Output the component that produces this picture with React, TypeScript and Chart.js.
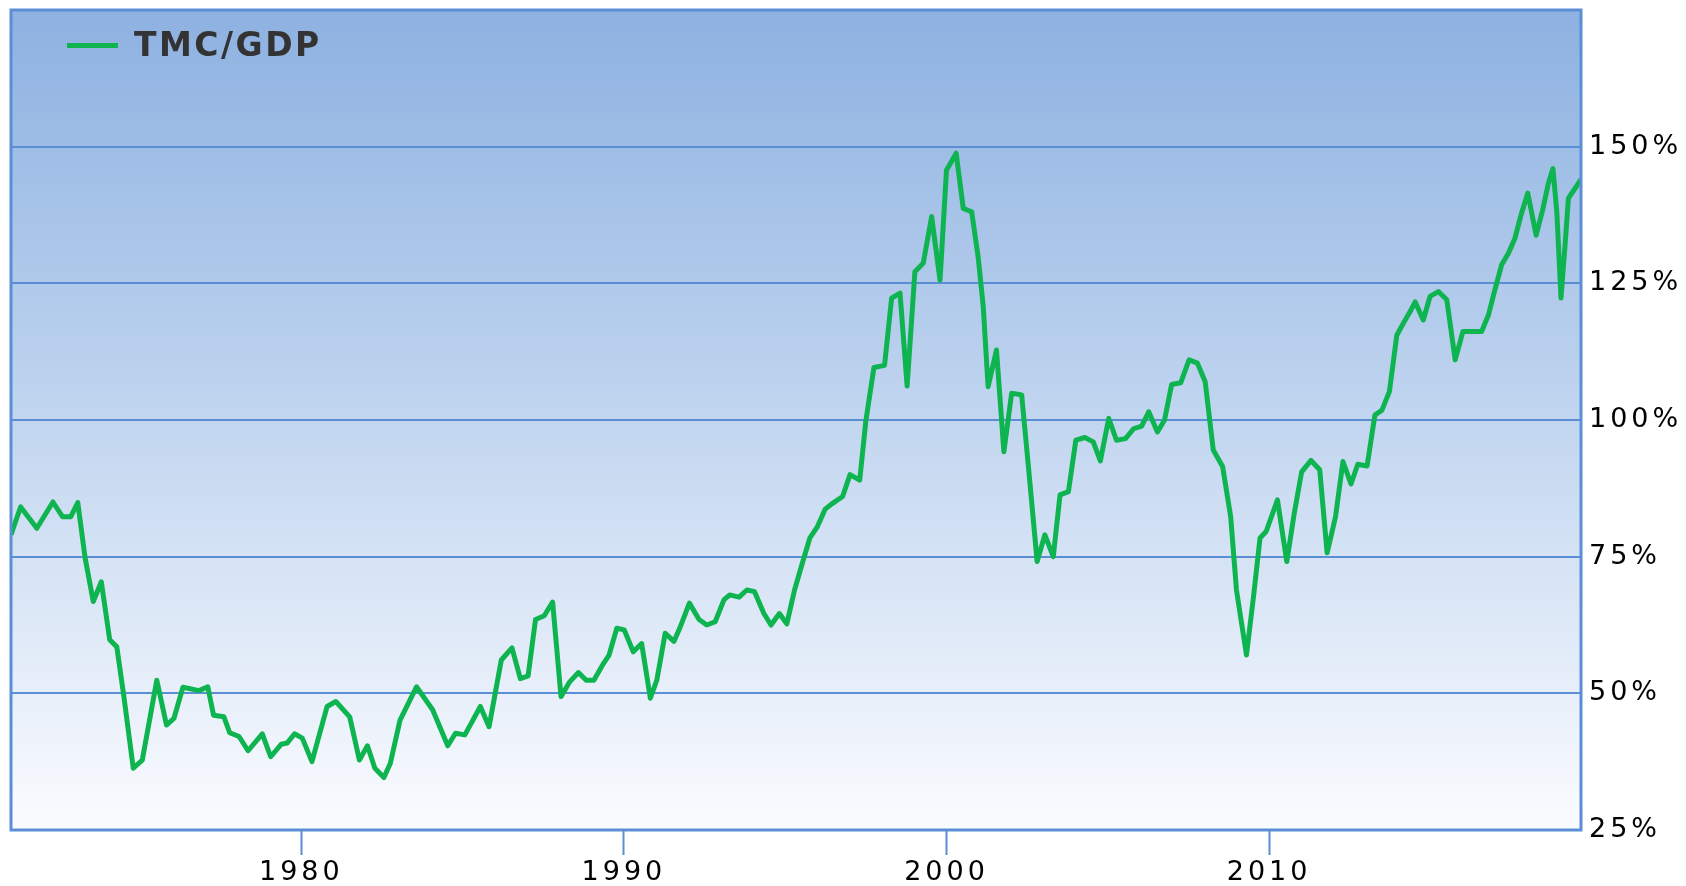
import React, { useEffect, useRef } from 'react';
import { Chart, registerables } from 'chart.js';

Chart.register(...registerables);

const SERIES_LABEL = 'TMC/GDP';

const YEARS = [
  1971.0, 1971.3, 1971.8, 1972.3, 1972.6, 1972.85, 1973.07, 1973.3, 1973.55, 1973.8,
  1974.06, 1974.28, 1974.5, 1974.79, 1975.07, 1975.52, 1975.82, 1976.05, 1976.33, 1976.83,
  1977.1, 1977.28, 1977.6, 1977.78, 1978.07, 1978.35, 1978.79, 1979.05, 1979.38, 1979.56,
  1979.79, 1980.03, 1980.33, 1980.8, 1981.07, 1981.5, 1981.8, 1982.05, 1982.28, 1982.56,
  1982.76, 1983.06, 1983.57, 1984.07, 1984.54, 1984.78, 1985.07, 1985.55, 1985.82, 1986.2,
  1986.53, 1986.79, 1987.03, 1987.26, 1987.53, 1987.79, 1988.05, 1988.32, 1988.59, 1988.83,
  1989.07, 1989.36, 1989.54, 1989.78, 1990.01, 1990.29, 1990.55, 1990.82, 1991.02, 1991.28,
  1991.55, 1991.73, 1992.03, 1992.33, 1992.57, 1992.83, 1993.1, 1993.28, 1993.57, 1993.81,
  1994.05, 1994.34, 1994.56, 1994.82, 1995.05, 1995.29, 1995.53, 1995.77, 1996.0, 1996.24,
  1996.48, 1996.78, 1997.01, 1997.31, 1997.5, 1997.75, 1998.08, 1998.3, 1998.56, 1998.78,
  1999.02, 1999.28, 1999.54, 1999.8, 2000.0, 2000.3, 2000.52, 2000.78, 2000.98, 2001.14,
  2001.29, 2001.55, 2001.78, 2002.02, 2002.33, 2002.54, 2002.81, 2003.05, 2003.31, 2003.52,
  2003.78, 2004.01, 2004.29, 2004.55, 2004.77, 2005.03, 2005.27, 2005.55, 2005.8, 2006.05,
  2006.27, 2006.54, 2006.76, 2006.98, 2007.26, 2007.52, 2007.78, 2008.02, 2008.27, 2008.56,
  2008.81, 2008.99, 2009.3, 2009.53, 2009.72, 2009.91, 2010.26, 2010.55, 2010.78, 2011.01,
  2011.3, 2011.57, 2011.8, 2012.06, 2012.29, 2012.54, 2012.75, 2013.04, 2013.28, 2013.5,
  2013.73, 2013.96, 2014.17, 2014.37, 2014.53, 2014.78, 2014.99, 2015.25, 2015.51, 2015.77,
  2016.01, 2016.28, 2016.59, 2016.8, 2017.0, 2017.21, 2017.42, 2017.62, 2017.81, 2018.02,
  2018.28, 2018.48, 2018.66, 2018.8, 2018.92, 2019.05, 2019.18, 2019.28, 2019.49, 2019.67,
];

const TMC_GDP = [
  79.0, 84.1, 80.2, 85.0, 82.3, 82.3, 84.9, 74.7, 66.8, 70.4,
  59.8, 58.5, 49.4, 36.3, 37.8, 52.4, 44.2, 45.4, 51.1, 50.5,
  51.2, 46.0, 45.7, 42.8, 42.1, 39.5, 42.6, 38.4, 40.7, 40.9,
  42.6, 41.8, 37.5, 47.6, 48.5, 45.7, 37.8, 40.4, 36.3, 34.6,
  37.2, 45.1, 51.2, 47.0, 40.4, 42.7, 42.4, 47.6, 43.9, 56.1,
  58.3, 52.7, 53.2, 63.5, 64.2, 66.7, 49.4, 52.1, 53.8, 52.4,
  52.4, 55.4, 57.0, 61.9, 61.6, 57.6, 59.1, 49.1, 52.4, 61.0,
  59.5, 61.9, 66.5, 63.5, 62.5, 63.1, 67.1, 68.0, 67.6, 68.9,
  68.6, 64.6, 62.5, 64.6, 62.7, 68.9, 73.8, 78.5, 80.5, 83.7,
  84.8, 86.0, 90.0, 89.0, 99.8, 109.6, 110.0, 122.3, 123.2, 106.2,
  127.1, 128.7, 137.2, 125.6, 145.7, 148.8, 138.7, 138.1, 129.9, 120.7,
  106.1, 112.8, 94.2, 104.9, 104.6, 91.5, 74.1, 79.0, 75.0, 86.3,
  86.9, 96.3, 96.8, 96.0, 92.5, 100.3, 96.3, 96.6, 98.4, 98.9,
  101.5, 97.8, 100.0, 106.5, 106.8, 111.0, 110.4, 107.0, 94.5, 91.5,
  82.3, 68.9, 57.0, 68.3, 78.4, 79.6, 85.4, 74.1, 82.9, 90.5,
  92.6, 90.9, 75.7, 82.3, 92.4, 88.3, 91.9, 91.6, 100.9, 101.8,
  105.2, 115.5, 117.8, 119.8, 121.6, 118.3, 122.6, 123.5, 122.0, 111.0,
  116.2, 116.2, 116.2, 119.2, 123.8, 128.4, 130.5, 133.2, 137.5, 141.5,
  133.8, 138.4, 143.3, 146.0, 138.1, 122.3, 132.3, 140.6, 142.4, 144.0,
];

const X_TICKS = [1980, 1990, 2000, 2010];
const X_MIN = 1971;
const X_MAX = 2019.67;
const Y_MIN = 25;
const Y_MAX = 175;
const Y_STEP = 25;

const LINE_COLOR = '#0db450';
const FRAME_COLOR = '#5b8fd5';

const W = 1686;
const H = 886;

export default function App() {
  const ref = useRef<HTMLCanvasElement | null>(null);

  useEffect(() => {
    const canvas = ref.current;
    if (!canvas) return;

    const spacing = {
      id: 'spacing',
      beforeUpdate(chart: any) {
        chart.ctx.letterSpacing = '4px';
      },
      beforeDraw(chart: any) {
        chart.ctx.letterSpacing = '4px';
      },
    };

    const background = {
      id: 'background',
      beforeDraw(chart: any) {
        const { ctx, chartArea: a } = chart;
        ctx.save();
        const g = ctx.createLinearGradient(0, a.top, 0, a.bottom);
        g.addColorStop(0, '#8db1e1');
        g.addColorStop(0.45, '#bcd2ee');
        g.addColorStop(1, '#fbfcff');
        ctx.fillStyle = g;
        ctx.fillRect(a.left, a.top, a.right - a.left, a.bottom - a.top);
        ctx.restore();
      },
    };

    const frame = {
      id: 'frame',
      afterDatasetsDraw(chart: any) {
        const { ctx, chartArea: a } = chart;
        ctx.save();
        ctx.strokeStyle = FRAME_COLOR;
        ctx.lineWidth = 3;
        ctx.strokeRect(a.left, a.top, a.right - a.left, a.bottom - a.top);
        ctx.restore();
      },
    };

    const legendBox = {
      id: 'legendBox',
      afterDraw(chart: any) {
        const { ctx, chartArea: a } = chart;
        ctx.save();
        ctx.fillStyle = LINE_COLOR;
        ctx.fillRect(a.left + 56, 43, 51, 5);
        ctx.letterSpacing = '2.5px';
        ctx.font = 'bold 33px "DejaVu Sans"';
        ctx.fillStyle = '#333333';
        ctx.textBaseline = 'alphabetic';
        ctx.textAlign = 'left';
        ctx.fillText(SERIES_LABEL, a.left + 123, 56);
        ctx.restore();
      },
    };

    const chart = new Chart(canvas, {
      type: 'line',
      data: {
        datasets: [
          {
            label: SERIES_LABEL,
            data: YEARS.map((x, i) => ({ x, y: TMC_GDP[i] })),
            borderColor: LINE_COLOR,
            borderWidth: 5,
            borderJoinStyle: 'round',
            pointRadius: 0,
            tension: 0,
            fill: false,
          },
        ],
      },
      options: {
        responsive: false,
        animation: false,
        layout: { padding: { left: 11, top: 10, right: 0, bottom: 0 } },
        plugins: {
          legend: { display: false },
          tooltip: { enabled: false },
        },
        scales: {
          x: {
            type: 'linear',
            position: 'bottom',
            min: X_MIN,
            max: X_MAX,
            afterBuildTicks(scale: any) {
              scale.ticks = X_TICKS.map((v) => ({ value: v }));
            },
            afterFit(scale: any) {
              scale.height = 56;
              scale.paddingLeft = 0;
              scale.paddingRight = 0;
            },
            border: { display: false },
            grid: {
              drawOnChartArea: false,
              drawTicks: true,
              tickLength: 25,
              tickWidth: 2,
              tickColor: FRAME_COLOR,
              color: FRAME_COLOR,
            },
            ticks: {
              autoSkip: false,
              maxRotation: 0,
              padding: 2,
              color: '#000000',
              font: { family: '"DejaVu Sans"', size: 27 },
              callback: (v: any) => String(v),
            },
          },
          y: {
            type: 'linear',
            position: 'right',
            min: Y_MIN,
            max: Y_MAX,
            afterFit(scale: any) {
              scale.width = 105;
              scale.paddingTop = 0;
              scale.paddingBottom = 0;
            },
            border: { display: false },
            grid: {
              drawOnChartArea: true,
              drawTicks: false,
              color: FRAME_COLOR,
              lineWidth: 2,
            },
            ticks: {
              stepSize: Y_STEP,
              padding: 8,
              color: '#000000',
              font: { family: '"DejaVu Sans"', size: 27 },
              callback: (v: any) => (v >= Y_MAX ? '' : v + '%'),
            },
          },
        },
      },
      plugins: [spacing, background, frame, legendBox],
    } as any);

    return () => chart.destroy();
  }, []);

  return (
    <div style={{ position: 'fixed', left: 0, top: 0, width: W, height: H, background: '#ffffff' }}>
      <canvas ref={ref} width={W} height={H} style={{ display: 'block', width: W, height: H }} />
    </div>
  );
}
